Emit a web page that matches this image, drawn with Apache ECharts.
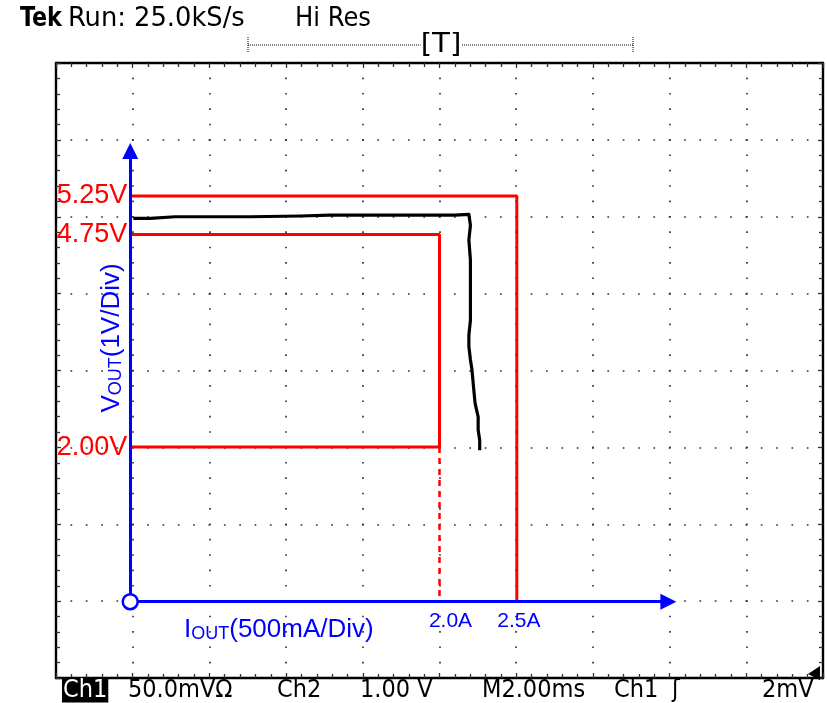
<!DOCTYPE html>
<html><head><meta charset="utf-8">
<style>html,body{margin:0;padding:0;background:#fff}#c{width:827px;height:703px}</style>
<script src="https://cdn.jsdelivr.net/npm/echarts@6/dist/echarts.min.js"></script>
</head><body><div id="c"></div>
<script>
// ---- data ----
const traceCurrentA = [0.02,0.13,0.29,0.45,0.78,1.10,1.29,1.49,1.75,1.94,2.10,2.19,2.20,2.20,2.19,2.20,2.20,2.20,2.20,2.19,2.19,2.20,2.21,2.22,2.23,2.25,2.25,2.26,2.26];
const traceVoltageV = [4.96,4.96,4.98,4.98,4.98,4.99,5.00,5.00,5.00,5.00,5.00,5.01,4.99,4.87,4.68,4.42,4.16,3.90,3.64,3.45,3.30,3.13,3.00,2.78,2.57,2.39,2.22,2.09,1.96];
const limitValuesV = [5.25, 4.75, 2.00];
const limitLabelsV = ['5.25V', '4.75V', '2.00V'];
const currentMarksA = [2.0, 2.5];
const currentMarkLabels = ['2.0A', '2.5A'];
const outerBoxA = [0, 2.5, 2.5];
const outerBoxV = [5.25, 5.25, 0];
const innerBoxA = [0, 2.0, 2.0, 0];
const innerBoxV = [4.75, 4.75, 2.0, 2.0];
const dashedA = [2.0, 2.0];
const dashedV = [2.0, 0];
const axisArrowEndA = 3.48;
const axisArrowEndV = 5.83;
const xDataRange = [-0.48, 4.48];
const yDataRange = [-0.987, 6.969];
const divisionsX = 10, divisionsY = 8;
const headerTexts = ['Tek', 'Run: 25.0kS/s', 'Hi Res'];
const footerTexts = ['Ch1', '50.0mV\u03A9', 'Ch2', '1.00 V', 'M2.00ms', 'Ch1', '\u0283', '2mV'];

// ---- chart ----
const G = {left: 56, top: 63, width: 767, height: 615};
const zip = (a, b) => a.map((v, i) => [v, b[i]]);
const RED = '#ff0000', BLUE = '#0000ff';
const dotX = G.height / divisionsY / 5, dotY = G.width / divisionsX / 5;
const dotW = 1.7;

function gridAxis(pos, n, split, dot) {
  return {
    type: 'value', min: 0, max: n, interval: 1, position: pos,
    axisLine: {show: true, onZero: false, lineStyle: {color: '#000', width: 2.4}},
    axisTick: {show: true, inside: true, length: 5, lineStyle: {color: '#333', width: 1.3}},
    minorTick: {show: true, splitNumber: 5, length: 4, lineStyle: {color: '#333', width: 1.3}},
    axisLabel: {show: false},
    splitLine: {show: split, lineStyle: {color: '#333', width: dotW, type: [dotW, dot - dotW], dashOffset: dotW / 2}},
    minorSplitLine: {show: false}
  };
}

const font = 'Liberation Sans, Arial, sans-serif';
const tekFont = 'DejaVu Sans Condensed, DejaVu Sans, sans-serif';
const tekText = (x, txt, extra) => Object.assign({type: 'text', x: x, y: 690, z: 10,
  style: Object.assign({text: txt, fontFamily: tekFont, fontSize: 25, fill: '#000', verticalAlign: 'middle'}, extra || {})});

const option = {
  animation: false,
  backgroundColor: '#fff',
  grid: {left: G.left, top: G.top, width: G.width, height: G.height, containLabel: false},
  xAxis: [
    gridAxis('bottom', divisionsX, true, dotX),
    gridAxis('top', divisionsX, false, dotX),
    {type: 'value', min: xDataRange[0], max: xDataRange[1], show: false}
  ],
  yAxis: [
    gridAxis('left', divisionsY, true, dotY),
    gridAxis('right', divisionsY, false, dotY),
    {type: 'value', min: yDataRange[0], max: yDataRange[1], show: false}
  ],
  series: [
    {type: 'line', xAxisIndex: 2, yAxisIndex: 2, data: zip(outerBoxA, outerBoxV), showSymbol: false, lineStyle: {color: RED, width: 3}, z: 3},
    {type: 'line', xAxisIndex: 2, yAxisIndex: 2, data: zip(innerBoxA, innerBoxV), showSymbol: false, lineStyle: {color: RED, width: 3}, z: 3},
    {type: 'line', xAxisIndex: 2, yAxisIndex: 2, data: zip(dashedA, dashedV), showSymbol: false, lineStyle: {color: RED, width: 2.5, type: [6, 5]}, z: 3},
    {type: 'line', xAxisIndex: 2, yAxisIndex: 2, data: zip(traceCurrentA, traceVoltageV), showSymbol: false, lineStyle: {color: '#000', width: 3.2, join: 'round'}, z: 5},
    {type: 'lines', coordinateSystem: 'cartesian2d', xAxisIndex: 2, yAxisIndex: 2,
      symbol: ['none', 'triangle'], symbolSize: 16,
      lineStyle: {color: BLUE, width: 3, opacity: 1}, itemStyle: {color: BLUE}, z: 6,
      data: [{coords: [[0, 0], [0, axisArrowEndV]]}, {coords: [[0, 0], [axisArrowEndA, 0]]}]},
    {type: 'scatter', xAxisIndex: 2, yAxisIndex: 2, data: [[0, 0]], symbol: 'circle', symbolSize: 15,
      itemStyle: {color: '#fff', borderColor: BLUE, borderWidth: 2.5, opacity: 1}, z: 7, silent: true},
    {type: 'scatter', xAxisIndex: 2, yAxisIndex: 2, symbolSize: 0, z: 8, itemStyle: {opacity: 1},
      data: limitValuesV.map((v, i) => ({value: [0, v], label: {formatter: limitLabelsV[i]}})),
      label: {show: true, position: 'left', distance: 3, color: RED, opacity: 1, textBorderWidth: 0, fontFamily: font, fontSize: 27}},
    {type: 'scatter', xAxisIndex: 2, yAxisIndex: 2, symbolSize: 0, z: 8, itemStyle: {opacity: 1},
      data: currentMarksA.map((v, i) => ({value: [v, 0], label: {formatter: currentMarkLabels[i], offset: [i === 0 ? 11 : 2, 0]}})),
      label: {show: true, position: 'bottom', distance: 9, color: BLUE, opacity: 1, textBorderWidth: 0, fontFamily: font, fontSize: 21}}
  ],
  graphic: [
    // axis titles
    {type: 'text', x: 112, y: 338, rotation: Math.PI / 2, z: 10,
      style: {text: '{v|V}{s|OUT}{v|(1V/Div)}', align: 'center', verticalAlign: 'middle',
        rich: {v: {fontFamily: font, fontSize: 26, fill: BLUE, verticalAlign: 'bottom'}, s: {fontFamily: font, fontSize: 18, fill: BLUE, verticalAlign: 'bottom'}}}},
    {type: 'text', x: 184, y: 630, z: 10,
      style: {text: '{v|I}{s|OUT}{v|(500mA/Div)}', align: 'left', verticalAlign: 'middle',
        rich: {v: {fontFamily: font, fontSize: 26, fill: BLUE, verticalAlign: 'bottom'}, s: {fontFamily: font, fontSize: 18, fill: BLUE, verticalAlign: 'bottom'}}}},
    // header
    {type: 'text', x: 20, y: 19, scaleX: 0.92, style: {text: headerTexts[0], fontFamily: tekFont, fontWeight: 'bold', fontSize: 27, fill: '#000', verticalAlign: 'middle'}},
    {type: 'text', x: 68, y: 19, scaleX: 1.06, style: {text: headerTexts[1], fontFamily: tekFont, fontSize: 27, fill: '#000', verticalAlign: 'middle'}},
    {type: 'text', x: 295, y: 19, style: {text: headerTexts[2], fontFamily: tekFont, fontSize: 27, fill: '#000', verticalAlign: 'middle'}},
    // trigger bar
    {type: 'line', shape: {x1: 248, y1: 45, x2: 633, y2: 45}, style: {stroke: '#000', lineWidth: 1, lineDash: [1, 1]}},
    {type: 'line', shape: {x1: 248, y1: 37, x2: 248, y2: 53}, style: {stroke: '#000', lineWidth: 1, lineDash: [1, 1]}},
    {type: 'line', shape: {x1: 633, y1: 37, x2: 633, y2: 53}, style: {stroke: '#000', lineWidth: 1, lineDash: [1, 1]}},
    {type: 'text', x: 441, y: 45, scaleX: 1.25, style: {text: '[T]', fontFamily: tekFont, fontSize: 26, fill: '#000', align: 'center', verticalAlign: 'middle', backgroundColor: '#fff'}},
    // footer
    tekText(62, footerTexts[0], {fill: '#fff', backgroundColor: '#000', padding: [0, 1, 0, 1]}),
    tekText(128, footerTexts[1]),
    tekText(277, footerTexts[2]),
    tekText(360, footerTexts[3]),
    tekText(482, footerTexts[4]),
    tekText(614, footerTexts[5]),
    tekText(672, footerTexts[6]),
    tekText(762, footerTexts[7]),
    // trigger level marker
    {type: 'polygon', shape: {points: [[808, 674], [820, 666], [820, 680]]}, style: {fill: '#000'}, z: 10}
  ]
};
echarts.init(document.getElementById('c')).setOption(option);
</script></body></html>
